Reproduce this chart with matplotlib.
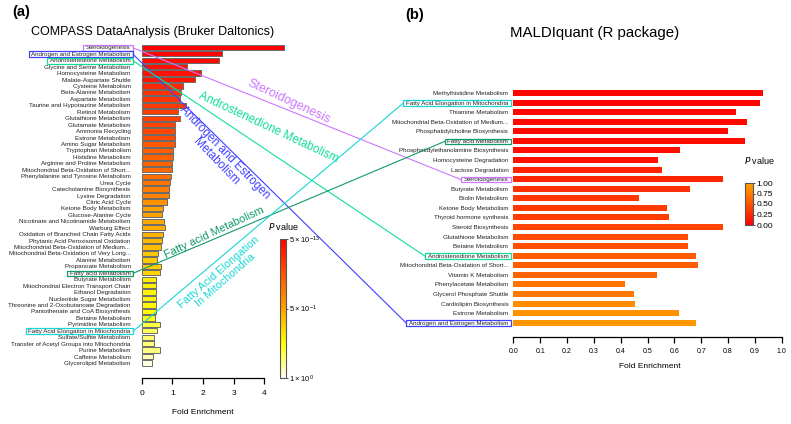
"""
Pathway enrichment: COMPASS DataAnalysis vs MALDIquant, with shared pathways linked.
"""

import numpy as np
import matplotlib.pyplot as plt
from matplotlib.colors import LinearSegmentedColormap, Normalize
from matplotlib.lines import Line2D
from matplotlib.patches import Rectangle

plt.rcParams['font.family'] = ['Liberation Sans', 'DejaVu Sans']
plt.rcParams['mathtext.default'] = 'regular'

# (a) COMPASS DataAnalysis (Bruker Daltonics)
compass_paths = [
    "Steroidogenesis", "Androgen and Estrogen Metabolism", "Androstenedione Metabolism",
    "Glycine and Serine Metabolism", "Homocysteine Metabolism", "Malate-Aspartate Shuttle",
    "Cysteine Metabolism", "Beta-Alanine Metabolism", "Aspartate Metabolism",
    "Taurine and Hypotaurine Metabolism", "Retinol Metabolism", "Glutathione Metabolism",
    "Glutamate Metabolism", "Ammonia Recycling", "Estrone Metabolism",
    "Amino Sugar Metabolism", "Tryptophan Metabolism", "Histidine Metabolism",
    "Arginine and Proline Metabolism", "Mitochondrial Beta-Oxidation of Short...",
    "Phenylalanine and Tyrosine Metabolism", "Urea Cycle", "Catecholamine Biosynthesis",
    "Lysine Degradation", "Citric Acid Cycle", "Ketone Body Metabolism",
    "Glucose-Alanine Cycle", "Nicotinate and Nicotinamide Metabolism", "Warburg Effect",
    "Oxidation of Branched Chain Fatty Acids", "Phytanic Acid Peroxisomal Oxidation",
    "Mitochondrial Beta-Oxidation of Medium...", "Mitochondrial Beta-Oxidation of Very Long...",
    "Alanine Metabolism", "Propanoate Metabolism", "Fatty acid Metabolism",
    "Butyrate Metabolism", "Mitochondrial Electron Transport Chain", "Ethanol Degradation",
    "Nucleotide Sugar Metabolism", "Threonine and 2-Oxobutanoate Degradation",
    "Pantothenate and CoA Biosynthesis", "Betaine Metabolism", "Pyrimidine Metabolism",
    "Fatty Acid Elongation in Mitochondria", "Sulfate/Sulfite Metabolism",
    "Transfer of Acetyl Groups into Mitochondria", "Purine Metabolism",
    "Caffeine Metabolism", "Glycerolipid Metabolism",
]
compass_fold = [
    4.65, 2.63, 2.53, 1.47, 1.92, 1.75, 1.35, 1.28, 1.25, 1.46,
    1.17, 1.26, 1.08, 1.09, 1.09, 1.08, 1.01, 1.01, 1.00, 0.98,
    0.95, 0.92, 0.88, 0.88, 0.84, 0.68, 0.67, 0.73, 0.77, 0.68,
    0.65, 0.64, 0.54, 0.51, 0.64, 0.61, 0.46, 0.48, 0.48, 0.48,
    0.46, 0.46, 0.45, 0.60, 0.51, 0.41, 0.41, 0.61, 0.37, 0.35,
]
compass_p = [
    0.0, 0.02, 0.03, 0.05, 0.05, 0.06, 0.12, 0.15, 0.16, 0.17,
    0.18, 0.19, 0.20, 0.21, 0.22, 0.26, 0.28, 0.29, 0.30, 0.31,
    0.33, 0.35, 0.38, 0.40, 0.45, 0.50, 0.50, 0.52, 0.53, 0.55,
    0.57, 0.58, 0.60, 0.61, 0.62, 0.63, 0.70, 0.71, 0.72, 0.72,
    0.73, 0.74, 0.75, 0.82, 0.84, 0.86, 0.87, 0.88, 0.93, 0.98,
]

# (b) MALDIquant (R package)
maldi_paths = [
    "Methylhistidine Metabolism", "Fatty Acid Elongation in Mitochondria",
    "Thiamine Metabolism", "Mitochondrial Beta-Oxidation of Medium...",
    "Phosphatidylcholine Biosynthesis", "Fatty acid Metabolism",
    "Phosphatidylethanolamine Biosynthesis", "Homocysteine Degradation",
    "Lactose Degradation", "Steroidogenesis", "Butyrate Metabolism", "Biolin Metabolism",
    "Ketone Body Metabolism", "Thyroid hormone synthesis", "Steroid Biosynthesis",
    "Glutathione Metabolism", "Betaine Metabolism", "Androstenedione Metabolism",
    "Mitochondrial Beta-Oxidation of Short...", "Vitamin K Metabolism",
    "Phenylacetate Metabolism", "Glycerol Phosphate Shuttle", "Cardiolipim Biosynthesis",
    "Estrone Metabolism", "Androgen and Estrogen Metabolism",
]
maldi_fold = [
    0.93, 0.92, 0.83, 0.87, 0.80, 0.865, 0.62, 0.54, 0.553, 0.78,
    0.66, 0.47, 0.573, 0.58, 0.78, 0.652, 0.652, 0.68, 0.69, 0.535,
    0.415, 0.45, 0.455, 0.618, 0.682,
]
maldi_p = [
    0.02, 0.03, 0.04, 0.05, 0.06, 0.07, 0.08, 0.10, 0.20, 0.22,
    0.30, 0.33, 0.35, 0.37, 0.42, 0.45, 0.47, 0.55, 0.57, 0.60,
    0.70, 0.72, 0.85, 0.88, 0.90,
]

# pathways found by both tools
links = [
    ("Steroidogenesis", "Steroidogenesis", "#cc77ff"),
    ("Androgen and Estrogen Metabolism", "Androgen and Estrogen Metabolism", "#4040ff"),
    ("Androstenedione Metabolism", "Androstenedione Metabolism", "#11dd99"),
    ("Fatty acid Metabolism", "Fatty acid Metabolism", "#119966"),
    ("Fatty Acid Elongation in Mitochondria", "Fatty Acid Elongation in Mitochondria", "#1ad5d5"),
]

W, H = 791, 424
fig = plt.figure(figsize=(W / 100, H / 100), dpi=100)

def px(x, y):
    return x / W, 1 - y / H

cmap_a = LinearSegmentedColormap.from_list(
    "a", ["#ff0000", "#ff5500", "#ffa000", "#ffff00", "#fffff4"])
cmap_b = LinearSegmentedColormap.from_list("b", ["#ff0000", "#ffa500"])
norm = Normalize(0, 1)

# ---- panel a
ax1 = fig.add_axes([141.7 / W, 1 - 378 / H, 144.1 / W, 335.8 / H])
ya = np.arange(len(compass_paths))
ax1.barh(ya, compass_fold, height=0.82, color=cmap_a(norm(np.array(compass_p))),
         edgecolor="#6a6a6a", linewidth=0.7)
ax1.set_yticks(ya, compass_paths, fontsize=4.5)
ax1.set_ylim(51.33, -0.8)
ax1.set_xlim(0, 4.7)
ax1.set_xticks([0, 1, 2, 3, 4])
ax1.tick_params(axis="y", length=0, pad=8, colors="#222222")
ax1.tick_params(axis="x", length=4.3, width=0.9, labelsize=6, pad=4)
for s in ["top", "right", "left"]:
    ax1.spines[s].set_visible(False)
ax1.spines["bottom"].set_bounds(0, 4)
ax1.spines["bottom"].set_linewidth(0.9)
ax1.patch.set_visible(False)

# ---- panel b
ax2 = fig.add_axes([513.3 / W, 1 - 336.7 / H, 268.4 / W, 251.4 / H])
yb = np.arange(len(maldi_paths))
ax2.barh(yb, maldi_fold, height=0.63, color=cmap_b(norm(np.array(maldi_p))))
ax2.set_yticks(yb, maldi_paths, fontsize=4.5)
ax2.set_ylim(25.46, -0.8)
ax2.set_xlim(0, 1.0)
ax2.set_xticks(np.round(np.arange(0, 1.01, 0.1), 1))
ax2.xaxis.set_major_formatter(plt.FormatStrFormatter("%.1f"))
ax2.tick_params(axis="y", length=0, pad=3.6, colors="#222222")
ax2.tick_params(axis="x", length=4.3, width=0.9, labelsize=5, pad=4)
for s in ["top", "right", "left"]:
    ax2.spines[s].set_visible(False)
ax2.spines["bottom"].set_linewidth(0.9)
ax2.patch.set_visible(False)

# ---- colour bars
cax1 = fig.add_axes([280 / W, 1 - 378 / H, 6 / W, 139 / H])
cb1 = fig.colorbar(plt.cm.ScalarMappable(norm=norm, cmap=cmap_a), cax=cax1)
cb1.set_ticks([0, 0.5, 1], labels=[r"$5\times10^{-13}$", r"$5\times10^{-1}$", r"$1\times10^{0}$"])
cax1.invert_yaxis()
cax1.tick_params(labelsize=5.5, length=1.5, width=0.5, pad=1)
cb1.outline.set_edgecolor("#555555")
cb1.outline.set_linewidth(0.8)
fig.text(*px(284, 227), "$\\it{P}$ value", fontsize=6.5, ha="center", va="center")

cax2 = fig.add_axes([745 / W, 1 - 225 / H, 8 / W, 42 / H])
cb2 = fig.colorbar(plt.cm.ScalarMappable(norm=norm, cmap=cmap_b), cax=cax2)
cb2.set_ticks([0, 0.25, 0.5, 0.75, 1.0])
cb2.ax.yaxis.set_major_formatter(plt.FormatStrFormatter("%.2f"))
cax2.tick_params(labelsize=6, length=1.5, width=0.5, pad=1)
cb2.outline.set_edgecolor("#555555")
cb2.outline.set_linewidth(0.8)
fig.text(*px(760, 160), "$\\it{P}$ value", fontsize=6.5, ha="center", va="center")

# ---- titles and axis labels
fig.text(*px(12, 12), "(a)", fontsize=10.5, fontweight="bold", va="center")
fig.text(*px(405, 15), "(b)", fontsize=10.5, fontweight="bold", va="center")
fig.text(*px(153, 32), "COMPASS DataAnalysis (Bruker Daltonics)", fontsize=9, ha="center", va="center")
fig.text(*px(595, 33), "MALDIquant (R package)", fontsize=10.8, ha="center", va="center")
fig.text(*px(203, 412), "Fold Enrichment", fontsize=6, ha="center", va="center")
fig.text(*px(650, 367), "Fold Enrichment", fontsize=6, ha="center", va="center")

# ---- boxes round shared pathways and connecting lines
fig.canvas.draw()
renderer = fig.canvas.get_renderer()

def label_box(ax, name):
    for lab in ax.get_yticklabels():
        if lab.get_text() == name:
            bb = lab.get_window_extent(renderer)
            return bb.x0 - 2.5, bb.y0 - 0.3, bb.x1 + 2.5, bb.y1 + 0.3
    return None

for name_a, name_b, col in links:
    boxes = [label_box(ax1, name_a), label_box(ax2, name_b)]
    for x0, y0, x1, y1 in boxes:
        fig.add_artist(Rectangle((x0 / W, y0 / H), (x1 - x0) / W, (y1 - y0) / H,
                                 transform=fig.transFigure, fill=False,
                                 edgecolor=col, linewidth=0.9))
    (ax0, ay0, ax1_, ay1), (bx0, by0, bx1, by1) = boxes
    fig.add_artist(Line2D([ax1_ / W, bx0 / W], [(ay0 + ay1) / 2 / H, (by0 + by1) / 2 / H],
                          transform=fig.transFigure, color=col, linewidth=0.8))

fig.text(*px(289, 102), "Steroidogenesis", color="#cc77ff", fontsize=9,
         rotation=-25, rotation_mode="anchor", ha="center", va="center")
fig.text(*px(268, 128), "Androstenedione Metabolism", color="#11dd99", fontsize=8.5,
         rotation=-25, rotation_mode="anchor", ha="center", va="center")
fig.text(*px(220, 157), "Androgen and Estrogen\nMetabolism", color="#4040ff", fontsize=8.5,
         rotation=-46, rotation_mode="anchor", ha="center", va="center", linespacing=1.0)
fig.text(*px(214, 232), "Fatty acid Metabolism", color="#119966", fontsize=8,
         rotation=25, rotation_mode="anchor", ha="center", va="center")
fig.text(*px(222, 276), "Fatty Acid Elongation\nIn Mitochondria", color="#1ad5d5", fontsize=7.8,
         rotation=41, rotation_mode="anchor", ha="center", va="center", linespacing=1.0)

fig.savefig("out.png", dpi=100)
